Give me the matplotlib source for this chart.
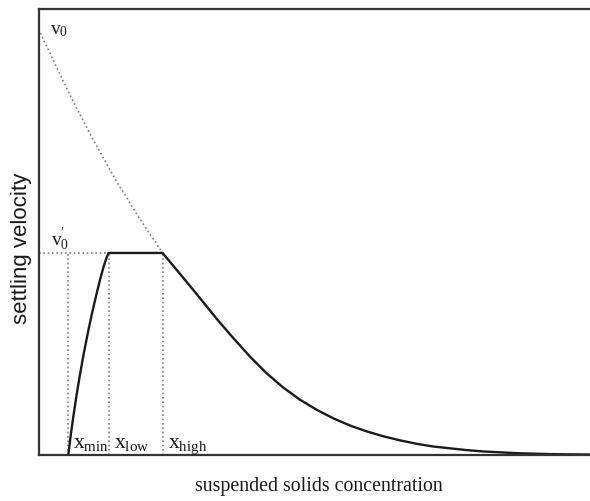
import numpy as np
import matplotlib
matplotlib.use('Agg')
import matplotlib.pyplot as plt

# values (x: concentration 0..10, y: velocity 0..1, arbitrary units)
conc_solid = [0.54, 0.58, 0.63, 0.69, 0.75, 0.82, 0.90, 0.98, 1.06, 1.12, 1.18, 1.23, 1.27,
              2.25, 2.62, 2.90, 3.24, 3.54, 3.84, 4.13, 4.43, 4.74, 5.05, 5.35, 5.65, 5.95,
              6.25, 6.55, 6.86, 7.16, 7.46, 7.76, 8.06, 8.37, 8.68, 8.98, 9.28, 9.60, 10.0]
vel_solid = [0.0, 0.040, 0.085, 0.134, 0.179, 0.227, 0.277, 0.323, 0.365, 0.395, 0.422, 0.441, 0.453,
             0.453, 0.398, 0.356, 0.304, 0.261, 0.220, 0.184, 0.152, 0.124, 0.101, 0.082, 0.066, 0.053,
             0.042, 0.033, 0.025, 0.019, 0.015, 0.011, 0.008, 0.006, 0.004, 0.003, 0.002, 0.0015, 0.001]

conc_dotted = [0.0, 0.1, 0.21, 0.3, 0.39, 0.54, 0.69, 0.84, 0.99, 1.15, 1.30, 1.45,
               1.60, 1.78, 1.90, 2.02, 2.14, 2.25]
vel_dotted = [0.955, 0.928, 0.901, 0.877, 0.853, 0.815, 0.778, 0.743, 0.707, 0.672, 0.638, 0.606,
              0.577, 0.540, 0.518, 0.495, 0.474, 0.453]

v0 = 0.955
v0_max = 0.453
x_marks = [0.54, 1.27, 2.25]
x_names = [r'$\mathrm{x}_{\mathrm{min}}$', r'$\mathrm{x}_{\mathrm{low}}$', r'$\mathrm{x}_{\mathrm{high}}$']

plt.rcParams['mathtext.fontset'] = 'custom'
plt.rcParams['mathtext.rm'] = 'Liberation Serif'
plt.rcParams['mathtext.it'] = 'Liberation Serif:italic'

fig = plt.figure(figsize=(5.9, 5.02), dpi=100)
ax = fig.add_axes([38.5/590, 46/502, 1 - 38.5/590, 446/502])
ax.set_xlim(0, 10)
ax.set_ylim(0, 1)

dotcol = '0.5'
dots = (0, (1, 1.6))
ax.plot(conc_dotted, vel_dotted, color=dotcol, ls=dots, lw=1.2)
ax.plot([0, x_marks[1]], [v0_max, v0_max], color=dotcol, ls=dots, lw=1.2)
for xm in x_marks:
    ax.plot([xm, xm], [0, v0_max], color=dotcol, ls=dots, lw=1.2)

ax.plot(conc_solid, vel_solid, color='0.1', lw=1.7, solid_joinstyle='round')

for xm, name in zip(x_marks, x_names):
    ax.text(xm + 0.09, 0.018, name, fontsize=15.5, color='0.1', ha='left', va='baseline')

ax.text(0.21, v0 - 0.01, r'$\mathrm{v}_0$', fontsize=14, color='0.1', ha='left', va='baseline')
ax.text(0.23, v0_max + 0.018, r'$\mathrm{v}_0^{\prime}$', fontsize=14, color='0.1', ha='left', va='baseline')

ax.set_xticks([])
ax.set_yticks([])
ax.spines['right'].set_visible(False)
for s in ['left', 'top', 'bottom']:
    ax.spines[s].set_linewidth(1.6)
    ax.spines[s].set_color('0.2')

fig.text(22/590, 1 - 248/502, 'settling velocity', rotation=90, ha='center', va='center',
         fontsize=16, family='Liberation Sans', color='0.1')
fig.text(319/590, 1 - 487/502, 'suspended solids concentration', ha='center', va='center',
         fontsize=14.3, family='Liberation Serif', color='0.1')

fig.savefig('out.png', dpi=100)
